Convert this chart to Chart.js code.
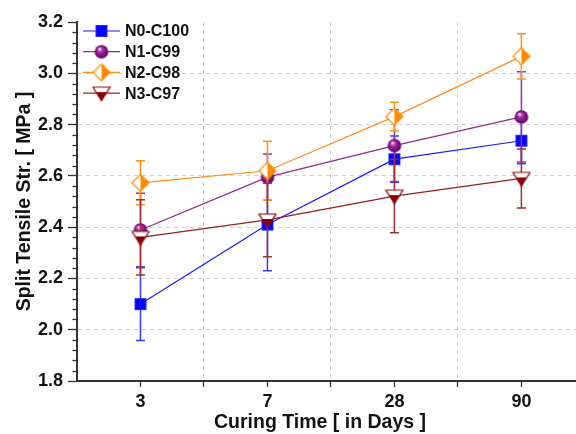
<!DOCTYPE html>
<html>
<head>
<meta charset="utf-8">
<script src="https://cdn.jsdelivr.net/npm/chart.js@4.4.1/dist/chart.umd.min.js"></script>
<style>
    html, body { margin: 0; padding: 0; background: #fff; }
    #wrap { width: 576px; height: 434px; }
</style>
</head>
<body>
<div id="wrap"><canvas id="strengthChart" width="576" height="434"></canvas></div>
<script>
// categories (curing age) and split tensile strength results
const curingDays = ['3', '7', '28', '90'];
const seriesNames = ['N0-C100', 'N1-C99', 'N2-C98', 'N3-C97'];

const n0Mean = [2.100, 2.410, 2.665, 2.737];
const n0Err = [0.142, 0.180, 0.090, 0.090];
const n1Mean = [2.389, 2.595, 2.718, 2.830];
const n1Err = [0.143, 0.090, 0.140, 0.176];
const n2Mean = [2.573, 2.620, 2.831, 3.066];
const n2Err = [0.086, 0.115, 0.056, 0.088];
const n3Mean = [2.360, 2.428, 2.521, 2.590];
const n3Err = [0.147, 0.143, 0.143, 0.115];

const yMajorTicks = [1.8, 2.0, 2.2, 2.4, 2.6, 2.8, 3.0, 3.2];
const yMinorPerMajor = 4;

const xTitle = 'Curing Time [ in Days ]';
const yTitle = 'Split Tensile Str. [ MPa ]';

const FONT = '"Liberation Sans", Arial, sans-serif';

// --- marker images (half filled symbols like the original plot) ---
function makeMarker(drawFn) {
    const c = document.createElement('canvas');
    c.width = 20;
    c.height = 20;
    drawFn(c.getContext('2d'));
    return c;
}

const squareMarker = makeMarker(function(g) {
    g.fillStyle = '#0000ff';
    g.fillRect(4, 4, 12, 12);
    g.strokeStyle = '#2a2aff';
    g.lineWidth = 1;
    g.strokeRect(4.5, 4.5, 11, 11);
});

const sphereMarker = makeMarker(function(g) {
    const grad = g.createRadialGradient(8, 7, 0.5, 10, 10, 7);
    grad.addColorStop(0, '#f4d8f4');
    grad.addColorStop(0.3, '#a53aa5');
    grad.addColorStop(0.75, '#7a0a7a');
    grad.addColorStop(1, '#5a005a');
    g.fillStyle = grad;
    g.beginPath();
    g.arc(10, 10, 6.8, 0, Math.PI * 2);
    g.fill();
});

const diamondMarker = makeMarker(function(g) {
    g.fillStyle = '#ffffff';
    g.beginPath();
    g.moveTo(10, 1.5); g.lineTo(18.5, 10); g.lineTo(10, 18.5); g.lineTo(1.5, 10);
    g.closePath();
    g.fill();
    g.fillStyle = '#ff8c00';
    g.beginPath();
    g.moveTo(10, 1.5); g.lineTo(18.5, 10); g.lineTo(10, 18.5);
    g.closePath();
    g.fill();
    g.strokeStyle = '#ff8c00';
    g.lineWidth = 1.2;
    g.beginPath();
    g.moveTo(10, 1.5); g.lineTo(18.5, 10); g.lineTo(10, 18.5); g.lineTo(1.5, 10);
    g.closePath();
    g.stroke();
});

const triangleMarker = makeMarker(function(g) {
    g.fillStyle = '#ffffff';
    g.beginPath();
    g.moveTo(1.5, 4); g.lineTo(18.5, 4); g.lineTo(10, 17.5);
    g.closePath();
    g.fill();
    // lower part filled
    g.fillStyle = '#8b0000';
    g.beginPath();
    g.moveTo(4.6, 9); g.lineTo(15.4, 9); g.lineTo(10, 17.5);
    g.closePath();
    g.fill();
    g.strokeStyle = '#8b0a0a';
    g.lineWidth = 1.2;
    g.beginPath();
    g.moveTo(1.5, 4); g.lineTo(18.5, 4); g.lineTo(10, 17.5);
    g.closePath();
    g.stroke();
});

function toPoints(values) {
    return values.map((v, i) => ({ x: i + 1, y: v }));
}

const datasets = [
    { label: seriesNames[0], data: toPoints(n0Mean), errors: n0Err, borderColor: '#1a1aff', errColor: '#3838ff', pointStyle: squareMarker, order: 3 },
    { label: seriesNames[1], data: toPoints(n1Mean), errors: n1Err, borderColor: '#8e2a8e', errColor: '#9436a4', pointStyle: sphereMarker, order: 2 },
    { label: seriesNames[2], data: toPoints(n2Mean), errors: n2Err, borderColor: '#ff8c1a', errColor: '#ff9414', pointStyle: diamondMarker, order: 1 },
    { label: seriesNames[3], data: toPoints(n3Mean), errors: n3Err, borderColor: '#952020', errColor: '#a22e2e', pointStyle: triangleMarker, order: 0 }
].map(function(d) {
    return Object.assign(d, {
        borderWidth: 1.2,
        pointRadius: 8,
        tension: 0,
        fill: false
    });
});

// y ticks: majors with minor ticks in between
function buildYTicks() {
    const out = [];
    for (let i = 0; i < yMajorTicks.length; i++) {
        out.push({ value: yMajorTicks[i], minor: false });
        if (i < yMajorTicks.length - 1) {
            const step = (yMajorTicks[i + 1] - yMajorTicks[i]) / (yMinorPerMajor + 1);
            for (let k = 1; k <= yMinorPerMajor; k++) {
                out.push({ value: +(yMajorTicks[i] + k * step).toFixed(4), minor: true });
            }
        }
    }
    return out;
}

// error bars, drawn just before each dataset so later series sit on top
const errorBars = {
    id: 'errorBars',
    beforeDatasetDraw(chart, args) {
        const ds = chart.data.datasets[args.index];
        if (!ds.errors) return;
        const yScale = chart.scales.y;
        const ctx = chart.ctx;
        ctx.save();
        ctx.strokeStyle = ds.errColor;
        ctx.lineWidth = 1.5;
        args.meta.data.forEach(function(pt, i) {
            const v = ds.data[i].y;
            const e = ds.errors[i];
            const yTop = yScale.getPixelForValue(v + e);
            const yBot = yScale.getPixelForValue(v - e);
            ctx.beginPath();
            ctx.moveTo(pt.x, yTop);
            ctx.lineTo(pt.x, yBot);
            ctx.moveTo(pt.x - 4.5, yTop);
            ctx.lineTo(pt.x + 4.5, yTop);
            ctx.moveTo(pt.x - 4.5, yBot);
            ctx.lineTo(pt.x + 4.5, yBot);
            ctx.stroke();
        });
        ctx.restore();
    }
};

// short minor ticks on the y axis + x axis title (sits a bit left of centre)
const axisExtras = {
    id: 'axisExtras',
    afterDraw(chart) {
        const y = chart.scales.y;
        const ctx = chart.ctx;
        const left = chart.chartArea.left;
        ctx.save();
        ctx.strokeStyle = '#333';
        ctx.lineWidth = 1.3;
        y.ticks.forEach(function(t) {
            if (!t.minor) return;
            const py = Math.round(y.getPixelForValue(t.value)) + 0.5;
            ctx.beginPath();
            ctx.moveTo(left - 4.5, py);
            ctx.lineTo(left, py);
            ctx.stroke();
        });
        ctx.fillStyle = '#111';
        ctx.font = 'bold 19.5px ' + FONT;
        ctx.textAlign = 'center';
        ctx.textBaseline = 'middle';
        ctx.fillText(xTitle, 320, 423);
        ctx.restore();
    }
};

// legend in the top-left corner of the plot
const insideLegend = {
    id: 'insideLegend',
    afterDraw(chart) {
        const ctx = chart.ctx;
        const x0 = 83, x1 = 120, rowY = 31, rowGap = 20.7;
        ctx.save();
        ctx.font = 'bold 16px ' + FONT;
        ctx.textBaseline = 'middle';
        ctx.fillStyle = '#111';
        chart.data.datasets.forEach(function(ds, i) {
            const y = rowY + i * rowGap;
            ctx.strokeStyle = ds.borderColor;
            ctx.lineWidth = 1.2;
            ctx.beginPath();
            ctx.moveTo(x0, y);
            ctx.lineTo(x1, y);
            ctx.stroke();
            const m = ds.pointStyle;
            ctx.drawImage(m, (x0 + x1) / 2 - m.width / 2, y - m.height / 2);
            ctx.fillText(ds.label, 125, y + 1);
        });
        ctx.restore();
    }
};

const ctx = document.getElementById('strengthChart').getContext('2d');

new Chart(ctx, {
    type: 'line',
    data: { datasets: datasets },
    plugins: [errorBars, axisExtras, insideLegend],
    options: {
        responsive: false,
        animation: false,
        devicePixelRatio: 1,
        layout: {
            autoPadding: false,
            padding: { top: 22, right: 0, bottom: 0, left: 0 }
        },
        plugins: {
            legend: { display: false },
            tooltip: { enabled: false }
        },
        scales: {
            x: {
                type: 'linear',
                min: 0.5,
                max: 4.43,
                afterBuildTicks: function(scale) {
                    const t = [];
                    for (let v = 1; v <= curingDays.length; v += 0.5) t.push({ value: v });
                    scale.ticks = t;
                },
                afterFit: function(scale) { scale.height = 53; },
                grid: {
                    color: c => (c.tick && c.tick.value % 1 !== 0) ? '#cfcfcf' : 'rgba(0,0,0,0)',
                    lineWidth: 1,
                    tickColor: '#333',
                    tickLength: 6,
                    tickWidth: 1.3
                },
                border: { display: true, color: '#333', width: 2, dash: [4, 4] },
                ticks: {
                    autoSkip: false,
                    maxRotation: 0,
                    padding: 4,
                    color: '#111',
                    font: { family: FONT, size: 18, weight: 'bold' },
                    callback: function(value) {
                        return value % 1 === 0 ? curingDays[value - 1] : '';
                    }
                },
                title: { display: false }
            },
            y: {
                type: 'linear',
                min: 1.8,
                max: 3.2,
                afterBuildTicks: function(scale) { scale.ticks = buildYTicks(); },
                afterFit: function(scale) { scale.width = 77; },
                grid: {
                    color: function(c) {
                        if (!c.tick || c.tick.minor) return 'rgba(0,0,0,0)';
                        const v = c.tick.value;
                        return (v > 1.85 && v < 3.15) ? '#cfcfcf' : 'rgba(0,0,0,0)';
                    },
                    lineWidth: 1,
                    tickColor: c => (c.tick && c.tick.minor) ? 'rgba(0,0,0,0)' : '#333',
                    tickLength: 9,
                    tickWidth: 1.3
                },
                border: { display: true, color: '#333', width: 2, dash: [4, 4] },
                ticks: {
                    autoSkip: false,
                    padding: 5,
                    color: '#111',
                    font: { family: FONT, size: 18, weight: 'bold' },
                    callback: function(value, index, ticks) {
                        return ticks[index].minor ? '' : value.toFixed(1);
                    }
                },
                title: {
                    display: true,
                    text: yTitle,
                    color: '#111',
                    font: { family: FONT, size: 19.5, weight: 'bold', lineHeight: 1.2 },
                    padding: { top: 13, bottom: 0 }
                }
            }
        }
    }
});
</script>
</body>
</html>
